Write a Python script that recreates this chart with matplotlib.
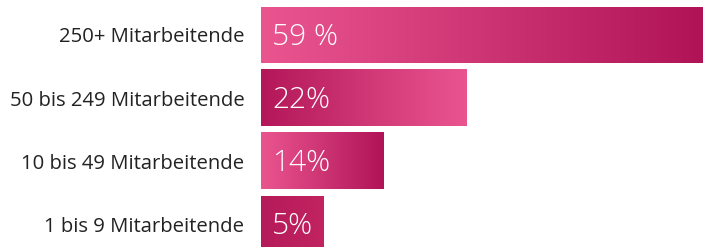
import numpy as np
import matplotlib.pyplot as plt
from matplotlib.colors import LinearSegmentedColormap

categories = [
    "250+ Mitarbeitende",
    "50 bis 249 Mitarbeitende",
    "10 bis 49 Mitarbeitende",
    "1 bis 9 Mitarbeitende",
]
shares = [59, 22, 14, 5]
share_labels = ["59 %", "22%", "14%", "5%"]
# drawn bar lengths (not proportional to the labels)
bar_lengths = [59, 27.5, 16.4, 8.3]

light = "#EA5590"
dark = "#B01457"
grad_start = [light, "#B31759", light, "#B51A5A"]
grad_end = [dark, light, dark, "#C1245F"]

plt.rcParams["font.family"] = ["Open Sans", "DejaVu Sans"]

fig = plt.figure(figsize=(7.09, 2.47), dpi=100)
ax = fig.add_axes([261 / 709, 0, 448 / 709, 1])

bar_h = 56 / 63
for i, length in enumerate(bar_lengths):
    cmap = LinearSegmentedColormap.from_list("g%d" % i, [grad_start[i], grad_end[i]])
    grad = np.linspace(0, 1, 256).reshape(1, -1)
    ax.imshow(
        grad,
        cmap=cmap,
        aspect="auto",
        interpolation="bicubic",
        extent=(0, length, i + bar_h / 2, i - bar_h / 2),
        zorder=1,
    )
    ax.text(
        1.5, i + 0.03, share_labels[i],
        color="white", fontsize=21.5, fontweight="light",
        va="center", ha="left", zorder=3,
    )

ax.set_xlim(0, 448 / 7.49)
ax.set_ylim(-35 / 63 + 247 / 63, -35 / 63)
ax.set_yticks(range(len(categories)))
ax.set_yticklabels(categories, fontsize=14.6, color="#222222")
ax.tick_params(axis="y", length=0, pad=12)
ax.set_xticks([])
for s in ax.spines.values():
    s.set_visible(False)

fig.savefig("out.png", dpi=100)
